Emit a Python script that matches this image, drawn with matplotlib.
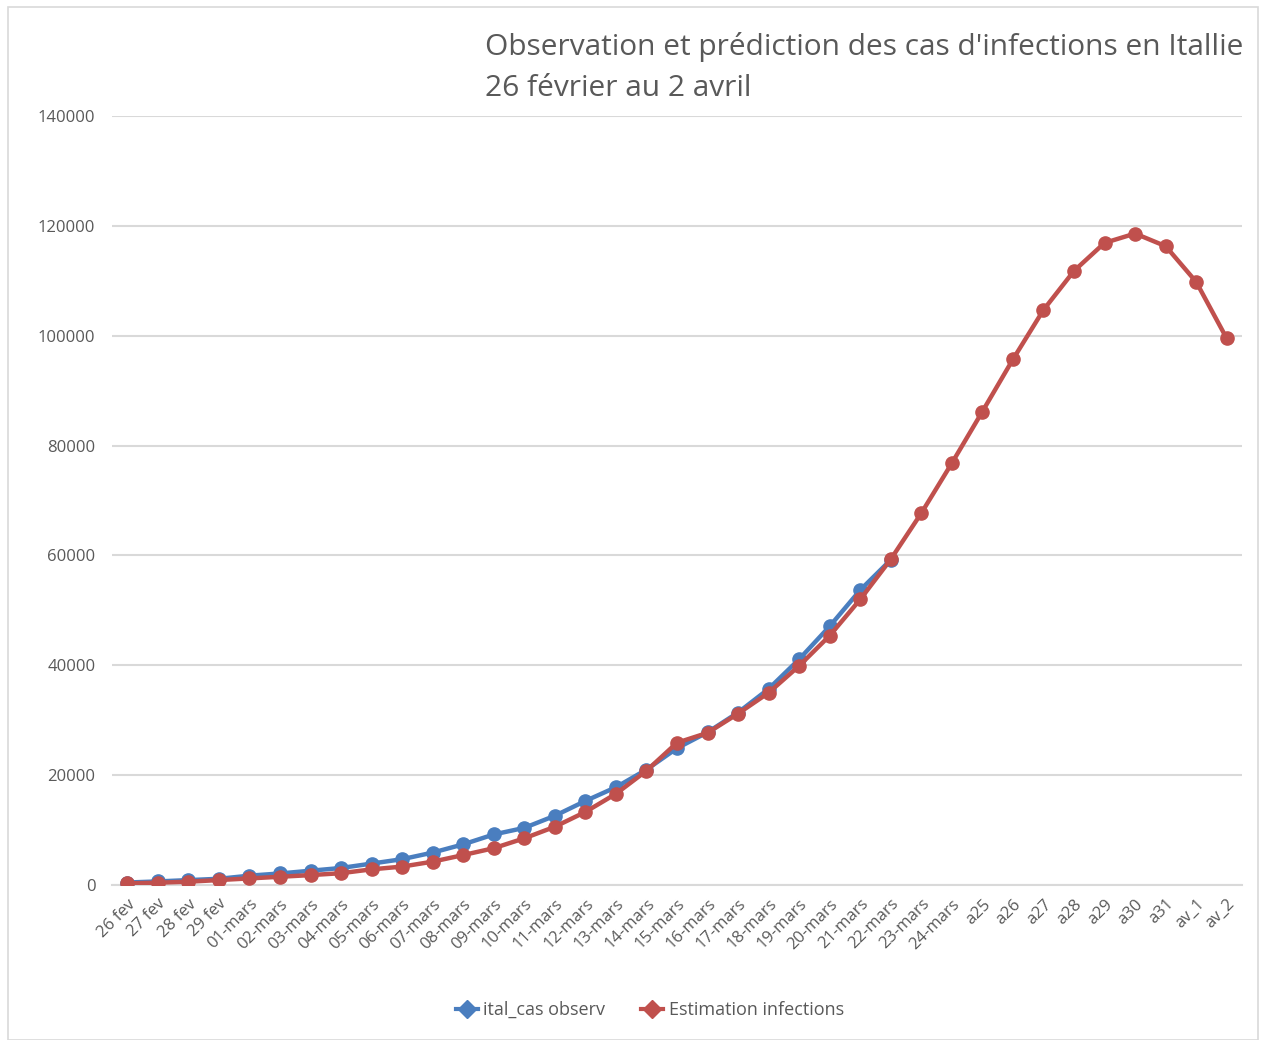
import matplotlib
matplotlib.use("Agg")
import matplotlib.pyplot as plt
from matplotlib.patches import Rectangle
from matplotlib.lines import Line2D

plt.rcParams['font.family'] = ['Open Sans', 'DejaVu Sans']

# Category labels (days)
dates = ["26 fev", "27 fev", "28 fev", "29 fev"] + \
        ["%02d-mars" % d for d in range(1, 25)] + \
        ["a25", "a26", "a27", "a28", "a29", "a30", "a31", "av_1", "av_2"]

# Observed cases (26 fev .. 22-mars)
observed = [450, 650, 890, 1130, 1700, 2100, 2600, 3100, 3900, 4700, 5900, 7400,
            9200, 10400, 12600, 15300, 17800, 21000, 24900, 27800, 31400, 35700,
            41100, 47100, 53700, 59200]

# Estimated infections (26 fev .. av_2)
estimated = [300, 420, 600, 900, 1200, 1500, 1800, 2150, 2850, 3350, 4250, 5450,
             6700, 8500, 10600, 13300, 16600, 20800, 25900, 27700, 31200, 35000,
             39900, 45400, 52000, 59300, 67700, 76800, 86200, 95700, 104700,
             111800, 116900, 118600, 116300, 109800, 99500]

yticks = [0, 20000, 40000, 60000, 80000, 100000, 120000, 140000]

blue = "#4a7ebf"
red = "#c0504d"
grey_text = "#595959"

W, H = 1266, 1040
fig = plt.figure(figsize=(W / 100, H / 100), dpi=100)
fig.patch.set_facecolor("white")

# chart area frame
fig.add_artist(Rectangle((8 / W, 0), (1258 - 8) / W, 1 - 7 / H,
                         transform=fig.transFigure, fill=False,
                         edgecolor="#d9d9d9", linewidth=1.2))

ax = fig.add_axes([112 / W, 1 - 885 / H, (1242 - 112) / W, (885 - 116) / H])
ax.set_facecolor("white")

x_obs = list(range(len(observed)))
x_est = list(range(len(estimated)))

ax.plot(x_obs, observed, color=blue, linewidth=3.2, marker="o", markersize=9.5,
        zorder=3, solid_capstyle="round")
ax.plot(x_est, estimated, color=red, linewidth=3.2, marker="o", markersize=9.5,
        zorder=4, solid_capstyle="round")

ax.set_xlim(-0.5, len(dates) - 0.5)
ax.set_ylim(0, 140000)
ax.set_yticks(yticks)
ax.set_yticklabels([str(v) for v in yticks], fontsize=12, color=grey_text)
ax.set_xticks(range(len(dates)))
ax.set_xticklabels(dates, rotation=45, ha="right", rotation_mode="anchor",
                   fontsize=12, color=grey_text)
ax.tick_params(axis="y", length=0, pad=12)
ax.tick_params(axis="x", length=0, pad=8)

ax.grid(axis="y", color="#d9d9d9", linewidth=1.5)
ax.set_axisbelow(True)
for side in ["top", "right", "left"]:
    ax.spines[side].set_visible(False)
ax.spines["bottom"].set_color("#d9d9d9")
ax.spines["bottom"].set_linewidth(1.5)

fig.text(485 / W, 1 - 47 / H, "Observation et prédiction des cas d'infections en Itallie",
         fontsize=21.5, color=grey_text, va="center", ha="left")
fig.text(485 / W, 1 - 89 / H, "26 février au 2 avril",
         fontsize=21.5, color=grey_text, va="center", ha="left")

handles = [Line2D([], [], color=blue, linewidth=3, marker="D", markersize=9),
           Line2D([], [], color=red, linewidth=3, marker="D", markersize=9)]
fig.legend(handles, ["ital_cas observ", "Estimation infections"],
           loc="center", bbox_to_anchor=(650 / W, 1 - 1010 / H), ncol=2,
           frameon=False, fontsize=13, handlelength=1.2, handletextpad=0.3,
           columnspacing=2.0, labelcolor=grey_text)

fig.savefig("out.png", dpi=100, facecolor="white")
